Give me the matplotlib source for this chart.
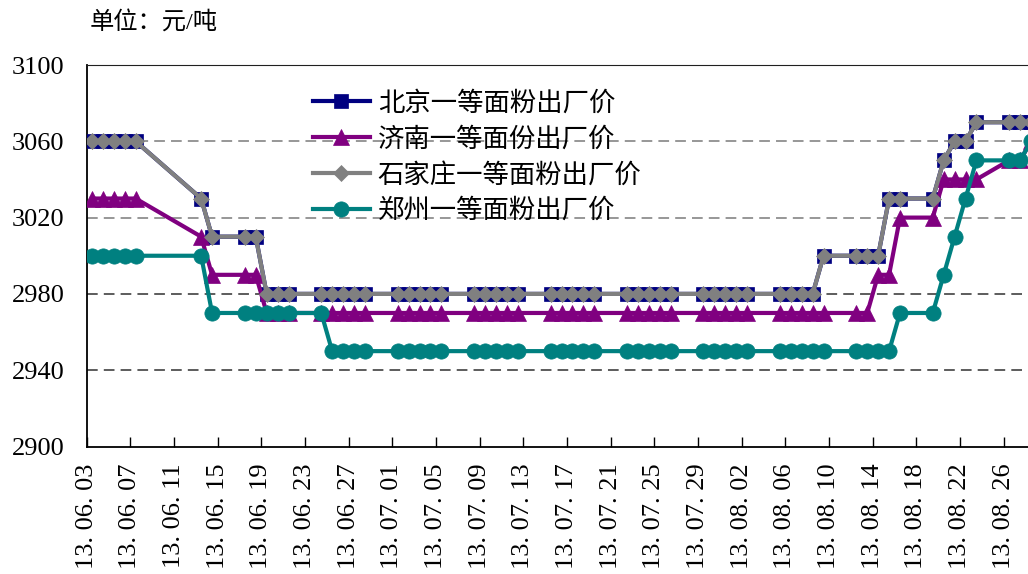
import numpy as np
import pandas as pd
import matplotlib
matplotlib.use("Agg")
import matplotlib.pyplot as plt

plt.rcParams['font.family'] = ['Liberation Serif', 'Noto Sans CJK SC']

# Trading days (Dragon Boat holiday 10-12 June excluded)
trade_dates = [
    '2013-06-03', '2013-06-04', '2013-06-05', '2013-06-06', '2013-06-07',
    '2013-06-13', '2013-06-14',
    '2013-06-17', '2013-06-18', '2013-06-19', '2013-06-20', '2013-06-21',
    '2013-06-24', '2013-06-25', '2013-06-26', '2013-06-27', '2013-06-28',
    '2013-07-01', '2013-07-02', '2013-07-03', '2013-07-04', '2013-07-05',
    '2013-07-08', '2013-07-09', '2013-07-10', '2013-07-11', '2013-07-12',
    '2013-07-15', '2013-07-16', '2013-07-17', '2013-07-18', '2013-07-19',
    '2013-07-22', '2013-07-23', '2013-07-24', '2013-07-25', '2013-07-26',
    '2013-07-29', '2013-07-30', '2013-07-31', '2013-08-01', '2013-08-02',
    '2013-08-05', '2013-08-06', '2013-08-07', '2013-08-08', '2013-08-09',
    '2013-08-12', '2013-08-13', '2013-08-14', '2013-08-15', '2013-08-16',
    '2013-08-19', '2013-08-20', '2013-08-21', '2013-08-22', '2013-08-23',
    '2013-08-26', '2013-08-27', '2013-08-28',
]

beijing = [
    3060, 3060, 3060, 3060, 3060,
    3030, 3010,
    3010, 3010, 2980, 2980, 2980,
    2980, 2980, 2980, 2980, 2980,
    2980, 2980, 2980, 2980, 2980,
    2980, 2980, 2980, 2980, 2980,
    2980, 2980, 2980, 2980, 2980,
    2980, 2980, 2980, 2980, 2980,
    2980, 2980, 2980, 2980, 2980,
    2980, 2980, 2980, 2980, 3000,
    3000, 3000, 3000, 3030, 3030,
    3030, 3050, 3060, 3060, 3070,
    3070, 3070, 3070,
]

jinan = [
    3030, 3030, 3030, 3030, 3030,
    3010, 2990,
    2990, 2990, 2970, 2970, 2970,
    2970, 2970, 2970, 2970, 2970,
    2970, 2970, 2970, 2970, 2970,
    2970, 2970, 2970, 2970, 2970,
    2970, 2970, 2970, 2970, 2970,
    2970, 2970, 2970, 2970, 2970,
    2970, 2970, 2970, 2970, 2970,
    2970, 2970, 2970, 2970, 2970,
    2970, 2970, 2990, 2990, 3020,
    3020, 3040, 3040, 3040, 3040,
    3050, 3050, 3060,
]

shijiazhuang = [
    3060, 3060, 3060, 3060, 3060,
    3030, 3010,
    3010, 3010, 2980, 2980, 2980,
    2980, 2980, 2980, 2980, 2980,
    2980, 2980, 2980, 2980, 2980,
    2980, 2980, 2980, 2980, 2980,
    2980, 2980, 2980, 2980, 2980,
    2980, 2980, 2980, 2980, 2980,
    2980, 2980, 2980, 2980, 2980,
    2980, 2980, 2980, 2980, 3000,
    3000, 3000, 3000, 3030, 3030,
    3030, 3050, 3060, 3060, 3070,
    3070, 3070, 3070,
]

zhengzhou = [
    3000, 3000, 3000, 3000, 3000,
    3000, 2970,
    2970, 2970, 2970, 2970, 2970,
    2970, 2950, 2950, 2950, 2950,
    2950, 2950, 2950, 2950, 2950,
    2950, 2950, 2950, 2950, 2950,
    2950, 2950, 2950, 2950, 2950,
    2950, 2950, 2950, 2950, 2950,
    2950, 2950, 2950, 2950, 2950,
    2950, 2950, 2950, 2950, 2950,
    2950, 2950, 2950, 2950, 2970,
    2970, 2990, 3010, 3030, 3050,
    3050, 3050, 3060,
]

series_labels = ['北京一等面粉出厂价', '济南一等面份出厂价',
                 '石家庄一等面粉出厂价', '郑州一等面粉出厂价']

tick_dates = ['2013-06-03', '2013-06-07', '2013-06-11', '2013-06-15',
              '2013-06-19', '2013-06-23', '2013-06-27', '2013-07-01',
              '2013-07-05', '2013-07-09', '2013-07-13', '2013-07-17',
              '2013-07-21', '2013-07-25', '2013-07-29', '2013-08-02',
              '2013-08-06', '2013-08-10', '2013-08-14', '2013-08-18',
              '2013-08-22', '2013-08-26']
tick_labels = ['13. 06. 03', '13. 06. 07', '13. 06. 11', '13. 06. 15',
               '13. 06. 19', '13. 06. 23', '13. 06. 27', '13. 07. 01',
               '13. 07. 05', '13. 07. 09', '13. 07. 13', '13. 07. 17',
               '13. 07. 21', '13. 07. 25', '13. 07. 29', '13. 08. 02',
               '13. 08. 06', '13. 08. 10', '13. 08. 14', '13. 08. 18',
               '13. 08. 22', '13. 08. 26']
y_ticks = [2900, 2940, 2980, 3020, 3060, 3100]

W, H = 1028, 574
fig = plt.figure(figsize=(W / 100, H / 100), dpi=100)
ax_left, ax_right, ax_top, ax_bottom = 86.5, 1036.5, 65, 446.5
ax = fig.add_axes([ax_left / W, 1 - ax_bottom / H,
                   (ax_right - ax_left) / W, (ax_bottom - ax_top) / H])

# each day occupies one slot; points sit in the middle of their day
x = pd.to_datetime(trade_dates) + pd.Timedelta(hours=12)
start = pd.Timestamp('2013-06-03')
ax.set_xlim(start, start + pd.Timedelta(days=87))
ax.set_ylim(2900, 3100)

# dashed horizontal grid
grid_colors = {2940: '#303030', 2980: '#303030', 3020: '#7a7a7a',
               3060: '#7a7a7a', 3100: '#606060'}
for yv, c in grid_colors.items():
    ax.axhline(yv, color=c, lw=1.1, ls=(0, (7, 4)), zorder=1)

styles = [
    dict(color='#000080', marker='s', ms=10.5),
    dict(color='#800080', marker='^', ms=11.5),
    dict(color='#808080', marker='D', ms=7.8),
    dict(color='#008080', marker='o', ms=11),
]
for vals, lab, st in zip([beijing, jinan, shijiazhuang, zhengzhou],
                         series_labels, styles):
    ax.plot(x, vals, color=st['color'], lw=3, marker=st['marker'],
            ms=st['ms'], mfc=st['color'], mec=st['color'], mew=0.5,
            label=lab, zorder=3, clip_on=True)

ax.set_xticks(pd.to_datetime(tick_dates))
ax.set_xticklabels(tick_labels, rotation=90, va='top', ha='center')
ax.set_yticks(y_ticks)
ax.set_yticklabels([str(v) for v in y_ticks])

ax.tick_params(axis='x', direction='in', length=7, width=1, pad=12,
               labelsize=19, colors='black')
ax.tick_params(axis='y', length=0, pad=16, labelsize=19)

ax.spines['right'].set_visible(False)
ax.spines['top'].set_color('#202020')
ax.spines['top'].set_linewidth(0.8)
ax.spines['left'].set_linewidth(1.3)
ax.spines['bottom'].set_linewidth(1.3)

leg = ax.legend(loc='upper left', bbox_to_anchor=(313 / W, 1 - 91 / H),
                bbox_transform=fig.transFigure, frameon=False, fontsize=19,
                handlelength=2.15, handletextpad=0.3, labelspacing=0.42,
                borderpad=0, borderaxespad=0)

fig.text(90 / W, 1 - 22 / H, '单位：元/吨', fontsize=17.5, ha='left',
         va='center')

fig.savefig('out.png', dpi=100)
